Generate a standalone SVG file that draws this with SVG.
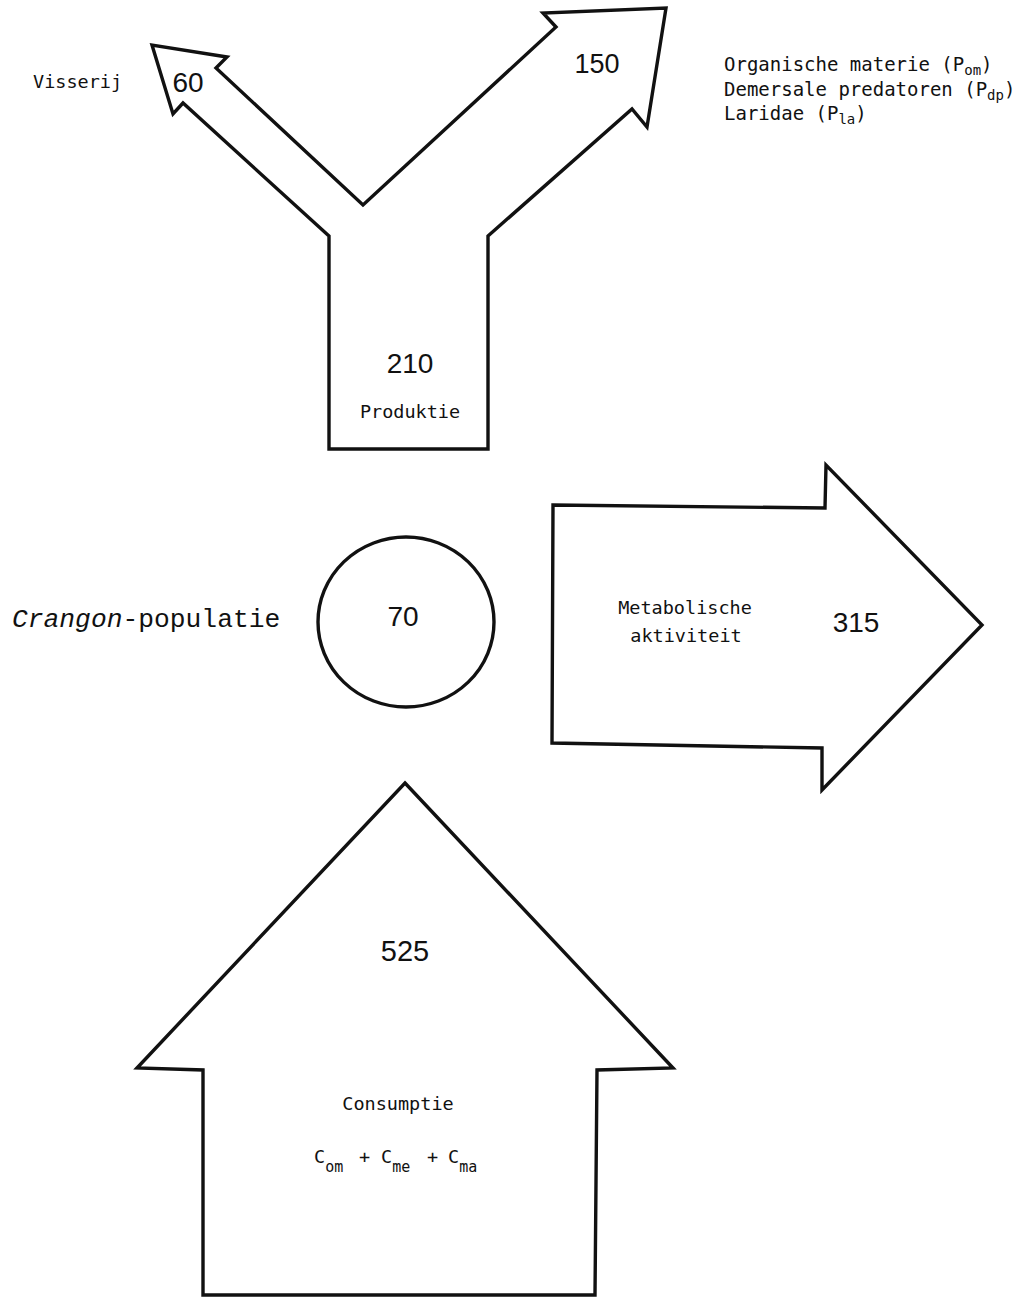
<svg xmlns="http://www.w3.org/2000/svg" width="1021" height="1298" viewBox="0 0 1021 1298">
<style>
.shape{fill:#fff;stroke:#111;stroke-width:3.4;stroke-linejoin:miter}
.num{font-family:"Liberation Sans",Arial,sans-serif;font-size:28px;fill:#111;text-anchor:middle}
.tw{font-family:"DejaVu Sans Mono","Liberation Mono",monospace;font-size:18.5px;fill:#111}
.lbl{font-size:19px}
.sub{font-size:15px}
.lsub{font-size:14px}
.mid{text-anchor:middle}
.serif{font-family:"Liberation Mono","Courier New",monospace;font-size:26.3px;fill:#111}
</style>
<rect width="1021" height="1298" fill="#fff"/>
<g id="connectors"/>
<g id="production">
<polygon class="shape" points="329,449 329,236 183,103 173,114 152,45 227,57 216,68 363,205 556,27 543,13 666,8 647,127 632,109 488,236 488,449"/>
<text class="num" x="410" y="373">210</text>
<text class="tw mid" x="410" y="418">Produktie</text>
<text class="num" x="188" y="92">60</text>
<text class="num" x="597" y="73" style="font-size:27px">150</text>
</g>
<g id="fisheries-label">
<text class="tw" x="33" y="88">Visserij</text>
</g>
<g id="predators-label">
<text class="tw lbl" x="724" y="71">Organische materie (P<tspan class="lsub" dy="4">om</tspan><tspan dy="-4">)</tspan></text>
<text class="tw lbl" x="724" y="96">Demersale predatoren (P<tspan class="lsub" dy="4">dp</tspan><tspan dy="-4">)</tspan></text>
<text class="tw lbl" x="724" y="120">Laridae (P<tspan class="lsub" dy="4">la</tspan><tspan dy="-4">)</tspan></text>
</g>
<g id="population">
<ellipse class="shape" cx="406" cy="622" rx="88" ry="85"/>
<text class="num" x="403" y="626">70</text>
<text class="serif" x="12" y="627"><tspan font-style="italic">Crangon</tspan>-populatie</text>
</g>
<g id="metabolism">
<polygon class="shape" points="553,505 825,508 826,465 982,625 822,790 822,748 552,743"/>
<text class="tw mid" x="685" y="614">Metabolische</text>
<text class="tw mid" x="686" y="642">aktiviteit</text>
<text class="num" x="856" y="632">315</text>
</g>
<g id="consumption">
<polygon class="shape" points="405,783 673,1068 597,1070 595,1295 203,1295 203,1070 137,1068"/>
<text class="num" x="405" y="961" style="font-size:29px">525</text>
<text class="tw mid" x="398" y="1110">Consumptie</text>
<text class="tw" x="314" y="1163">C<tspan class="sub" dy="9">om</tspan><tspan x="359" dy="-9">+</tspan><tspan x="381">C</tspan><tspan class="sub" dy="9">me</tspan><tspan x="427" dy="-9">+</tspan><tspan x="448">C</tspan><tspan class="sub" dy="9">ma</tspan></text>
</g>
</svg>
